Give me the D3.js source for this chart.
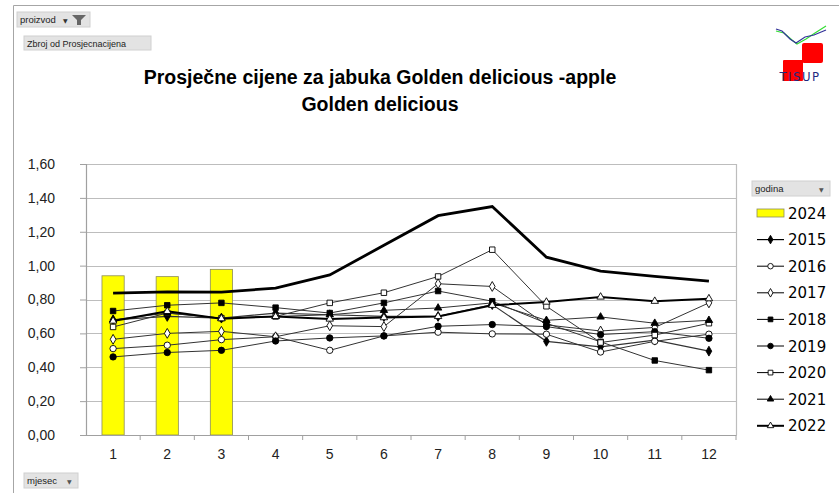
<!DOCTYPE html>
<html>
<head>
<meta charset="utf-8">
<script src="https://cdn.jsdelivr.net/npm/d3@7"></script>
<style>
  body { margin: 0; background: #fff; }
  svg { display: block; font-family: "DejaVu Sans", sans-serif; }
</style>
</head>
<body>
<svg id="chart" width="839" height="493"></svg>
<script>
// data
const months = [1, 2, 3, 4, 5, 6, 7, 8, 9, 10, 11, 12];
const yTicks = [0, 0.2, 0.4, 0.6, 0.8, 1.0, 1.2, 1.4, 1.6];
const bars2024 = [0.94, 0.935, 0.978];
const y2015 = [0.68, 0.70, 0.69, 0.72, 0.71, 0.70, 0.70, 0.77, 0.553, 0.52, 0.56, 0.495];
const y2016 = [0.51, 0.53, 0.563, 0.58, 0.50, 0.585, 0.607, 0.597, 0.595, 0.49, 0.553, 0.595];
const y2017 = [0.565, 0.60, 0.612, 0.58, 0.645, 0.64, 0.893, 0.877, 0.65, 0.614, 0.635, 0.78];
const y2018 = [0.732, 0.766, 0.78, 0.752, 0.72, 0.78, 0.85, 0.79, 0.66, 0.55, 0.44, 0.383];
const y2019 = [0.461, 0.487, 0.50, 0.555, 0.573, 0.585, 0.642, 0.652, 0.64, 0.593, 0.61, 0.571];
const y2020 = [0.638, 0.72, 0.69, 0.70, 0.78, 0.84, 0.936, 1.094, 0.76, 0.546, 0.59, 0.66];
const y2021 = [0.68, 0.72, 0.69, 0.70, 0.71, 0.736, 0.75, 0.78, 0.677, 0.697, 0.66, 0.677];
const y2022 = [0.673, 0.73, 0.687, 0.70, 0.685, 0.693, 0.70, 0.766, 0.785, 0.815, 0.79, 0.805];
const y2023 = [0.838, 0.845, 0.844, 0.867, 0.945, 1.12, 1.295, 1.349, 1.05, 0.968, 0.936, 0.909];

const series = [
    { name: "2015", values: y2015, symbol: d3.symbolDiamond, fill: "#000", width: 1.2, legend: true },
    { name: "2016", values: y2016, symbol: d3.symbolCircle, fill: "#fff", width: 1, legend: true },
    { name: "2017", values: y2017, symbol: d3.symbolDiamond, fill: "#fff", width: 1, legend: true },
    { name: "2018", values: y2018, symbol: d3.symbolSquare, fill: "#000", width: 1, legend: true },
    { name: "2019", values: y2019, symbol: d3.symbolCircle, fill: "#000", width: 1, legend: true },
    { name: "2020", values: y2020, symbol: d3.symbolSquare, fill: "#fff", width: 1, legend: true },
    { name: "2021", values: y2021, symbol: d3.symbolTriangle, fill: "#000", width: 1, legend: true },
    { name: "2022", values: y2022, symbol: d3.symbolTriangle, fill: "#fff", width: 2, legend: true },
    { name: "2023", values: y2023, symbol: null, fill: "none", width: 2.8, legend: false }
];

const svg = d3.select("#chart");
const plotLeft = 86, plotRight = 736, plotTop = 164, plotBottom = 435;

const x = d3.scaleBand().domain(months).range([plotLeft, plotRight]);
const y = d3.scaleLinear().domain([0, 1.6]).range([plotBottom, plotTop]);
const fmt = d3.formatLocale({ decimal: ",", thousands: ".", grouping: [3], currency: ["", "€"] }).format(".2f");

// frame of the pivot chart
svg.append("path")
    .attr("d", "M13.5,493 V5.5 H839")
    .attr("fill", "none").attr("stroke", "#a6a6a6");

// pivot buttons
function button(x0, y0, w, h, label, fs) {
    const g = svg.append("g");
    g.append("rect").attr("x", x0).attr("y", y0).attr("width", w).attr("height", h)
        .attr("fill", "#e3e3e3").attr("stroke", "#d0d0d0");
    g.append("text").attr("x", x0 + 3).attr("y", y0 + h / 2 + 3.5)
        .style("font-family", "'Liberation Sans', Arial, sans-serif")
        .style("font-size", fs + "px").attr("fill", "#222").text(label);
    return g;
}
const b1 = button(17, 12, 73, 15, "proizvod", 9.5);
b1.append("text").attr("x", 63).attr("y", 23).style("font-size", "6px").attr("fill", "#333").text("▼");
b1.append("path").attr("d", "M72,15 H86 L81,20 V25 H77 V20 Z").attr("fill", "#666");
button(24, 36, 127, 14, "Zbroj od Prosjecnacijena", 9);
const b3 = button(752, 181, 78, 15, "godina", 9.5);
b3.append("text").attr("x", 819).attr("y", 192).style("font-size", "6px").attr("fill", "#555").text("▼");
const b4 = button(24, 473, 54, 15, "mjesec", 9.5);
b4.append("text").attr("x", 67).attr("y", 484).style("font-size", "6px").attr("fill", "#555").text("▼");

// logo
const logo = svg.append("g");
logo.append("rect").attr("x", 802).attr("y", 43).attr("width", 21).attr("height", 20).attr("rx", 2).attr("fill", "#f00");
logo.append("rect").attr("x", 783).attr("y", 60).attr("width", 20).attr("height", 21).attr("rx", 1).attr("fill", "#f00");
logo.append("path").attr("d", "M776,31 L784,33 L792,40 L797,44 L806,39 L815,33 L826,26")
    .attr("fill", "none").attr("stroke", "#33dd33").attr("stroke-width", 1.2);
logo.append("path").attr("d", "M776,29 L782,31 L790,39 L796,43 L805,37 L814,35 L826,30")
    .attr("fill", "none").attr("stroke", "#333399").attr("stroke-width", 1.2);
logo.append("text").attr("x", 800).attr("y", 81).attr("text-anchor", "middle")
    .style("font-family", "'DejaVu Sans Condensed', 'DejaVu Sans', sans-serif")
    .style("font-size", "13px").style("letter-spacing", "1.5px").attr("fill", "#1f2a80").text("TISUP");

// title
const title = svg.append("text").attr("text-anchor", "middle")
    .style("font-family", "'Liberation Sans', Arial, sans-serif")
    .style("font-weight", "bold").style("font-size", "19.5px").attr("fill", "#000");
title.append("tspan").attr("x", 380).attr("y", 84).text("Prosječne cijene za jabuka Golden delicious -apple");
title.append("tspan").attr("x", 380).attr("y", 111).text("Golden delicious");

// gridlines
svg.append("g").selectAll("line").data(yTicks).join("line")
    .attr("x1", plotLeft).attr("x2", plotRight)
    .attr("y1", d => Math.round(y(d)) + 0.5).attr("y2", d => Math.round(y(d)) + 0.5)
    .attr("stroke", "#bdbdbd").attr("stroke-width", 1.2);
svg.append("line").attr("x1", plotRight + 0.5).attr("x2", plotRight + 0.5).attr("y1", plotTop).attr("y2", plotBottom)
    .attr("stroke", "#bdbdbd").attr("stroke-width", 1.2);

// bars 2024
const bw = x.bandwidth() * 0.41;
svg.append("g").selectAll("rect").data(bars2024).join("rect")
    .attr("x", (d, i) => x(months[i]) + x.bandwidth() / 2 - bw / 2)
    .attr("y", d => y(d))
    .attr("width", bw)
    .attr("height", d => plotBottom - y(d))
    .attr("fill", "#ffff00").attr("stroke", "#8c8c5a").attr("stroke-width", 0.8);

// lines
const line = d3.line()
    .x((d, i) => x(months[i]) + x.bandwidth() / 2)
    .y(d => y(d));

const lineGroup = svg.append("g");
series.forEach(s => {
    lineGroup.append("path")
        .attr("d", line(s.values))
        .attr("fill", "none")
        .attr("stroke", s.width > 1.5 ? "#000" : "#333")
        .attr("stroke-width", s.width);
});
const symSize = sym => sym === d3.symbolCircle ? 32 : (sym === d3.symbolSquare ? 30 : (sym === d3.symbolTriangle ? 24 : 28));
series.forEach(s => {
    if (!s.symbol) return;
    lineGroup.append("g").selectAll("path").data(s.values).join("path")
        .attr("transform", (d, i) => `translate(${x(months[i]) + x.bandwidth() / 2},${y(d)})`)
        .attr("d", d3.symbol(s.symbol, symSize(s.symbol)))
        .attr("fill", s.fill).attr("stroke", "#000").attr("stroke-width", 0.9);
});

// axes
const yAxis = svg.append("g").attr("transform", `translate(${plotLeft},0)`)
    .call(d3.axisLeft(y).tickValues(yTicks).tickFormat(fmt).tickSize(6).tickPadding(25));
yAxis.select(".domain").attr("stroke", "#a0a0a0").attr("stroke-width", 1.2);
yAxis.selectAll(".tick line").attr("stroke", "#a0a0a0");
yAxis.selectAll("text").style("font-size", "14px").attr("fill", "#222");

const xAxis = svg.append("g").attr("transform", `translate(0,${plotBottom})`)
    .call(d3.axisBottom(x).tickSize(0).tickPadding(14));
xAxis.select(".domain").attr("stroke", "#a0a0a0").attr("stroke-width", 1.2);
xAxis.selectAll("text").style("font-size", "14px").attr("fill", "#222");
svg.append("g").selectAll("line").data(months).join("line")
    .attr("x1", d => x(d) + x.bandwidth()).attr("x2", d => x(d) + x.bandwidth())
    .attr("y1", plotBottom).attr("y2", plotBottom + 5)
    .attr("stroke", "#a0a0a0");

// legend
const legend = svg.append("g").style("font-size", "15px");
const lx = 757, ly0 = 213, lstep = 26.6;
legend.append("rect").attr("x", lx).attr("y", ly0 - 4).attr("width", 27).attr("height", 8)
    .attr("fill", "#ffff00").attr("stroke", "#8c8c5a").attr("stroke-width", 0.8);
legend.append("text").attr("x", lx + 31).attr("y", ly0 + 5.5).attr("fill", "#000").text("2024");
series.filter(s => s.legend).forEach((s, i) => {
    const yy = ly0 + lstep * (i + 1);
    legend.append("line").attr("x1", lx).attr("x2", lx + 27).attr("y1", yy).attr("y2", yy)
        .attr("stroke", "#000").attr("stroke-width", s.width);
    legend.append("path").attr("transform", `translate(${lx + 13.5},${yy})`)
        .attr("d", d3.symbol(s.symbol, symSize(s.symbol) * 0.75)).attr("fill", s.fill).attr("stroke", "#000").attr("stroke-width", 0.9);
    legend.append("text").attr("x", lx + 31).attr("y", yy + 5.5).attr("fill", "#000").text(s.name);
});
</script>
</body>
</html>
